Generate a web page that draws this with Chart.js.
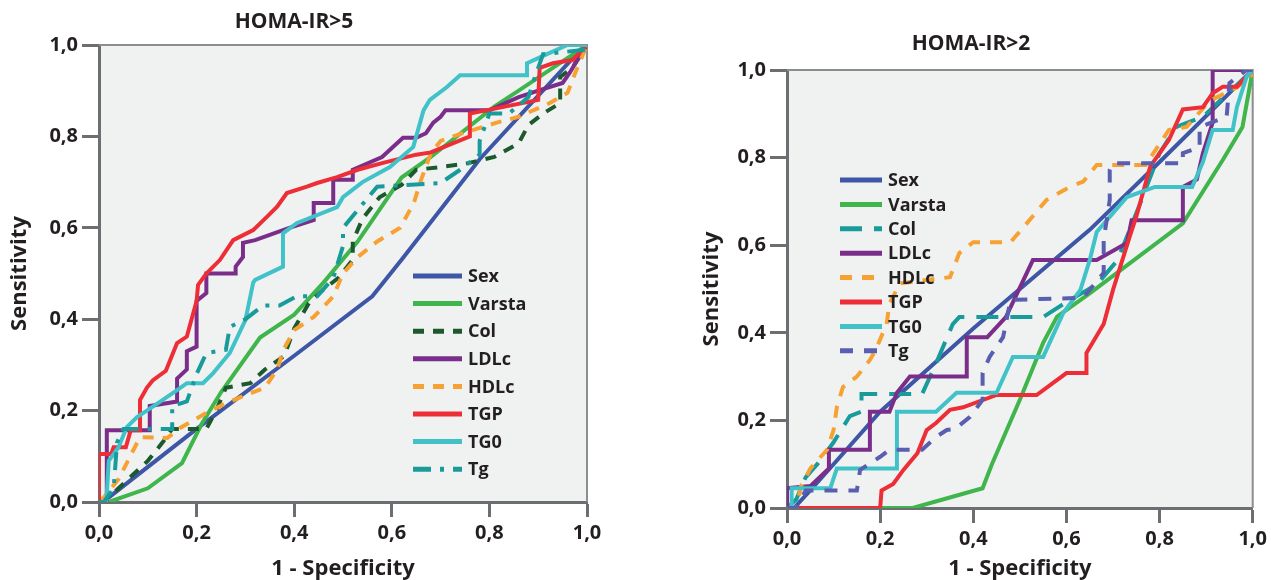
<!DOCTYPE html>
<html><head><meta charset="utf-8">
<script src="https://cdn.jsdelivr.net/npm/chart.js@4.4.1/dist/chart.umd.min.js"></script>
<style>
html,body{margin:0;padding:0;background:#fff;}
body{width:1271px;height:580px;position:relative;overflow:hidden;}
#c1{position:absolute;left:0;top:0;}
#c2{position:absolute;left:660px;top:0;}
</style></head><body>
<canvas id="c1" width="660" height="580"></canvas>
<canvas id="c2" width="611" height="580"></canvas>
<script>
// ---------- data ----------
const seriesNames = ['Sex','Varsta','Col','LDLc','HDLc','TGP','TG0','Tg'];
const axisTicks = [0, 0.2, 0.4, 0.6, 0.8, 1.0];
const chartTitles = ['HOMA-IR>5', 'HOMA-IR>2'];
const xTitle = '1 - Specificity';
const yTitle = 'Sensitivity';

// Left chart: HOMA-IR>5  ([1-specificity, sensitivity])
const L_Sex = [[0,0],[0.02,0.01],[0.2,0.16],[0.4,0.32],[0.56,0.45],[0.62,0.53],[0.78,0.75],[0.97,0.97],[1,1]];
const L_Varsta = [[0,0],[0.02,0],[0.1,0.03],[0.17,0.085],[0.21,0.17],[0.25,0.24],[0.33,0.36],[0.4,0.41],[0.46,0.48],[0.53,0.57],[0.62,0.71],[0.68,0.755],[0.81,0.865],[0.86,0.9],[0.93,0.95],[1,1]];
const L_Col = [[0,0],[0.03,0.02],[0.1,0.09],[0.13,0.13],[0.15,0.16],[0.22,0.16],[0.24,0.2],[0.26,0.25],[0.31,0.26],[0.34,0.29],[0.38,0.32],[0.40,0.38],[0.43,0.435],[0.46,0.465],[0.49,0.49],[0.52,0.53],[0.52,0.57],[0.54,0.62],[0.575,0.667],[0.62,0.694],[0.65,0.727],[0.70,0.733],[0.75,0.74],[0.81,0.755],[0.86,0.785],[0.88,0.825],[0.91,0.85],[0.945,0.873],[0.945,0.93],[0.97,0.95],[1,1]];
const L_LDLc = [[0,0],[0.016,0],[0.016,0.157],[0.104,0.157],[0.104,0.21],[0.16,0.22],[0.16,0.27],[0.18,0.29],[0.18,0.33],[0.2,0.34],[0.2,0.44],[0.22,0.457],[0.22,0.50],[0.28,0.50],[0.28,0.515],[0.295,0.536],[0.295,0.567],[0.32,0.573],[0.39,0.60],[0.44,0.617],[0.44,0.654],[0.48,0.654],[0.48,0.705],[0.52,0.705],[0.52,0.727],[0.58,0.755],[0.623,0.797],[0.65,0.797],[0.67,0.807],[0.685,0.83],[0.70,0.843],[0.71,0.857],[0.80,0.857],[0.86,0.886],[0.90,0.90],[0.95,0.917],[0.965,0.94],[0.98,0.967],[1,1]];
const L_HDLc = [[0,0],[0.01,0.01],[0.04,0.05],[0.084,0.142],[0.14,0.14],[0.166,0.162],[0.22,0.195],[0.26,0.216],[0.31,0.238],[0.34,0.25],[0.365,0.29],[0.378,0.333],[0.40,0.376],[0.44,0.405],[0.48,0.45],[0.50,0.50],[0.53,0.536],[0.57,0.57],[0.617,0.60],[0.645,0.654],[0.66,0.705],[0.68,0.763],[0.70,0.79],[0.745,0.807],[0.815,0.83],[0.86,0.843],[0.924,0.873],[0.96,0.895],[0.98,0.95],[1,1]];
const L_TGP = [[0,0],[0,0.105],[0.025,0.105],[0.03,0.12],[0.055,0.12],[0.065,0.157],[0.084,0.157],[0.084,0.223],[0.098,0.25],[0.11,0.266],[0.137,0.287],[0.16,0.348],[0.18,0.362],[0.2,0.44],[0.203,0.475],[0.22,0.50],[0.248,0.53],[0.275,0.573],[0.316,0.595],[0.344,0.624],[0.365,0.646],[0.385,0.676],[0.426,0.69],[0.447,0.698],[0.488,0.711],[0.53,0.727],[0.582,0.742],[0.65,0.76],[0.68,0.765],[0.76,0.80],[0.76,0.85],[0.9,0.88],[0.903,0.95],[0.93,0.96],[0.97,0.967],[1,1]];
const L_TG0 = [[0,0],[0.015,0],[0.02,0.09],[0.04,0.12],[0.057,0.164],[0.078,0.186],[0.098,0.2],[0.13,0.223],[0.16,0.245],[0.18,0.26],[0.213,0.26],[0.234,0.282],[0.268,0.326],[0.30,0.398],[0.316,0.48],[0.32,0.486],[0.377,0.515],[0.377,0.588],[0.405,0.61],[0.488,0.645],[0.50,0.667],[0.54,0.70],[0.596,0.733],[0.644,0.777],[0.665,0.857],[0.678,0.88],[0.713,0.908],[0.74,0.934],[0.877,0.934],[0.877,0.96],[0.918,0.98],[0.96,1],[1,1]];
const L_Tg = [[0,0],[0.01,0],[0.03,0.03],[0.037,0.13],[0.05,0.16],[0.15,0.16],[0.15,0.21],[0.18,0.22],[0.2,0.28],[0.22,0.326],[0.26,0.333],[0.268,0.383],[0.30,0.40],[0.336,0.43],[0.37,0.43],[0.405,0.45],[0.447,0.45],[0.48,0.49],[0.50,0.56],[0.50,0.60],[0.57,0.69],[0.70,0.698],[0.74,0.727],[0.78,0.76],[0.78,0.79],[0.80,0.85],[0.84,0.85],[0.88,0.886],[0.89,0.92],[0.91,0.98],[1,0.99],[1,1]];

// Right chart: HOMA-IR>2
const R_Sex = [[0,0],[0.015,0],[0.05,0.04],[0.2,0.22],[0.4,0.41],[0.65,0.635],[0.8,0.79],[1,1]];
const R_Varsta = [[0,0],[0.27,0],[0.42,0.045],[0.44,0.1],[0.5,0.247],[0.55,0.377],[0.58,0.437],[0.65,0.49],[0.85,0.65],[0.936,0.795],[0.978,0.87],[1,1]];
const R_Col = [[0,0],[0.02,0.02],[0.04,0.07],[0.065,0.1],[0.1,0.15],[0.135,0.21],[0.16,0.22],[0.16,0.26],[0.29,0.26],[0.32,0.33],[0.356,0.42],[0.37,0.436],[0.55,0.436],[0.6,0.47],[0.665,0.51],[0.71,0.566],[0.76,0.7],[0.8,0.81],[0.836,0.87],[0.893,0.893],[0.95,0.95],[1,1]];
const R_LDLc = [[0,0],[0,0.045],[0.05,0.05],[0.09,0.09],[0.09,0.133],[0.178,0.133],[0.178,0.22],[0.22,0.22],[0.236,0.263],[0.264,0.30],[0.386,0.30],[0.386,0.39],[0.43,0.39],[0.47,0.436],[0.528,0.566],[0.665,0.566],[0.73,0.605],[0.74,0.657],[0.85,0.657],[0.85,0.733],[0.88,0.75],[0.893,0.81],[0.914,0.88],[0.914,1.0],[1,1]];
const R_HDLc = [[0,0],[0.02,0],[0.03,0.05],[0.05,0.09],[0.086,0.133],[0.1,0.178],[0.107,0.23],[0.12,0.276],[0.15,0.3],[0.178,0.338],[0.19,0.36],[0.214,0.42],[0.22,0.467],[0.243,0.513],[0.35,0.527],[0.37,0.582],[0.40,0.607],[0.48,0.607],[0.507,0.64],[0.557,0.703],[0.607,0.733],[0.636,0.745],[0.665,0.783],[0.77,0.783],[0.82,0.863],[0.858,0.87],[0.908,0.93],[0.966,0.96],[1,0.99],[1,1]];
const R_TGP = [[0,0],[0.2,0],[0.203,0.04],[0.228,0.055],[0.25,0.087],[0.28,0.125],[0.3,0.178],[0.32,0.194],[0.35,0.224],[0.378,0.23],[0.45,0.258],[0.536,0.258],[0.60,0.308],[0.643,0.308],[0.643,0.354],[0.68,0.42],[0.70,0.498],[0.736,0.62],[0.75,0.665],[0.78,0.78],[0.82,0.84],[0.85,0.91],[0.893,0.915],[0.914,0.947],[0.936,0.962],[0.966,0.962],[1,1]];
const R_TG0 = [[0,0],[0.01,0],[0.01,0.045],[0.093,0.045],[0.107,0.09],[0.236,0.09],[0.236,0.22],[0.32,0.22],[0.364,0.263],[0.45,0.263],[0.485,0.345],[0.55,0.345],[0.593,0.445],[0.63,0.498],[0.65,0.566],[0.665,0.63],[0.73,0.71],[0.79,0.733],[0.87,0.733],[0.893,0.79],[0.914,0.863],[0.957,0.863],[0.966,0.915],[0.987,0.985],[1,1]];
const R_Tg = [[0,0],[0.02,0],[0.04,0.04],[0.15,0.04],[0.157,0.087],[0.2,0.117],[0.22,0.133],[0.29,0.133],[0.32,0.162],[0.343,0.178],[0.36,0.18],[0.393,0.208],[0.42,0.247],[0.42,0.308],[0.435,0.345],[0.464,0.39],[0.48,0.475],[0.636,0.48],[0.68,0.537],[0.68,0.612],[0.693,0.703],[0.693,0.772],[0.70,0.787],[0.85,0.787],[0.85,0.81],[0.886,0.824],[0.886,0.87],[0.944,0.893],[0.95,0.97],[0.987,1.0],[1,1]];

// ---------- styles ----------
const FONT = '"Open Sans", "DejaVu Sans", sans-serif';
const TEXT = '#231f20';
const AXIS = '#6d6e71';
const PLOT_BG = '#f0f2f2';
const leftStyles = [
  {c:'#3d56a6', d:[]}, {c:'#3fb54b', d:[]}, {c:'#1c5a2d', d:[11,9]}, {c:'#7a2e8a', d:[]},
  {c:'#f8a133', d:[11,9]}, {c:'#ee2e36', d:[]}, {c:'#40c2c8', d:[]}, {c:'#1a9b9b', d:[18,9,4,9]}
];
const rightStyles = [
  {c:'#3d56a6', d:[]}, {c:'#3fb54b', d:[]}, {c:'#1a9b9b', d:[22,12]}, {c:'#7a2e8a', d:[]},
  {c:'#f8a133', d:[12,10]}, {c:'#ee2e36', d:[]}, {c:'#40c2c8', d:[]}, {c:'#5a5eb0', d:[13,11]}
];

function makeDatasets(list, styles){
  return list.map((pts,i)=>({
    label: seriesNames[i],
    data: pts.map(p=>({x:p[0], y:p[1]})),
    borderColor: styles[i].c,
    borderDash: styles[i].d,
    borderWidth: 4,
    pointRadius: 0,
    fill: false,
    tension: 0,
    order: list.length - i
  }));
}

const fmt = v => Number(v).toFixed(1).replace('.', ',');

function framePlugin(cfg){
  return {
    id: 'frame'+cfg.id,
    beforeDraw(chart){
      const {ctx, chartArea:a} = chart;
      ctx.save();
      ctx.fillStyle = PLOT_BG;
      ctx.fillRect(a.left, a.top, a.right-a.left, a.bottom-a.top);
      ctx.restore();
    },
    beforeDatasetsDraw(chart){
      const {ctx, chartArea:a} = chart;
      ctx.save();
      ctx.strokeStyle = '#8c8d8f';
      ctx.lineWidth = 2;
      ctx.beginPath();
      ctx.moveTo(a.left, a.top); ctx.lineTo(a.right, a.top); ctx.lineTo(a.right, a.bottom);
      ctx.stroke();
      ctx.restore();
    },
    afterDraw(chart){
      const {ctx, chartArea:a} = chart;
      ctx.save();
      ctx.fillStyle = TEXT;
      ctx.font = 'bold 21px ' + FONT;
      ctx.textAlign = 'center';
      ctx.textBaseline = 'middle';
      ctx.fillText(cfg.title, cfg.titleX, cfg.titleY);
      ctx.font = 'bold 18px ' + FONT;
      ctx.textAlign = 'left';
      chart.data.datasets.forEach((ds, i) => {
        const y = a.top + cfg.legY + i*cfg.legRow;
        const x = a.left + cfg.legX;
        ctx.strokeStyle = ds.borderColor;
        ctx.lineWidth = 5;
        ctx.setLineDash(ds.borderDash || []);
        ctx.beginPath();
        ctx.moveTo(x, y); ctx.lineTo(x + cfg.legLen, y);
        ctx.stroke();
        ctx.setLineDash([]);
        ctx.fillStyle = TEXT;
        ctx.fillText(ds.label, x + cfg.legLen + 6, y + 1);
      });
      ctx.restore();
    }
  };
}

function makeChart(canvasId, datasets, cfg){
  const tickFont = {family: FONT, size: 20, weight: 'bold'};
  return new Chart(document.getElementById(canvasId), {
    type: 'line',
    data: {datasets},
    options: {
      responsive: false,
      animation: false,
      devicePixelRatio: 1,
      layout: {padding: cfg.padding},
      plugins: {legend: {display: false}, tooltip: {enabled: false}},
      scales: {
        x: {
          type: 'linear', min: 0, max: 1,
          afterBuildTicks: s => { s.ticks = axisTicks.map(v => ({value: v})); },
          afterFit: s => { s.height = cfg.xHeight; },
          border: {display: true, color: AXIS, width: 3},
          grid: {drawOnChartArea: false, drawTicks: true, tickLength: 15, tickColor: AXIS, tickWidth: 3},
          ticks: {color: TEXT, font: tickFont, padding: 4, maxRotation: 0, callback: fmt},
          title: {display: true, text: xTitle, color: TEXT, font: {family: FONT, size: 22, weight: 'bold', lineHeight: 1}, padding: 0}
        },
        y: {
          type: 'linear', min: 0, max: 1,
          afterBuildTicks: s => { s.ticks = axisTicks.map(v => ({value: v})); },
          afterFit: s => { s.width = cfg.yWidth; },
          border: {display: true, color: AXIS, width: 3},
          grid: {drawOnChartArea: false, drawTicks: true, tickLength: 17, tickColor: AXIS, tickWidth: 3},
          ticks: {color: TEXT, font: tickFont, padding: 4, callback: fmt},
          title: {display: true, text: yTitle, color: TEXT, font: {family: FONT, size: 22, weight: 'bold', lineHeight: 1}, padding: {top: 9, bottom: 0}}
        }
      }
    },
    plugins: [framePlugin(cfg)]
  });
}

makeChart('c1', makeDatasets([L_Sex, L_Varsta, L_Col, L_LDLc, L_HDLc, L_TGP, L_TG0, L_Tg], leftStyles), {
  id: 'L', padding: {left: 0, top: 45, right: 73, bottom: 0},
  yWidth: 99, xHeight: 78,
  title: chartTitles[0], titleX: 294, titleY: 22,
  legX: 314, legY: 231, legRow: 27.6, legLen: 49
});
makeChart('c2', makeDatasets([R_Sex, R_Varsta, R_Col, R_LDLc, R_HDLc, R_TGP, R_TG0, R_Tg], rightStyles), {
  id: 'R', padding: {left: 32, top: 70, right: 18, bottom: 0},
  yWidth: 95, xHeight: 72,
  title: chartTitles[1], titleX: 311, titleY: 44,
  legX: 53, legY: 110, legRow: 24.4, legLen: 42
});
</script>
</body></html>
